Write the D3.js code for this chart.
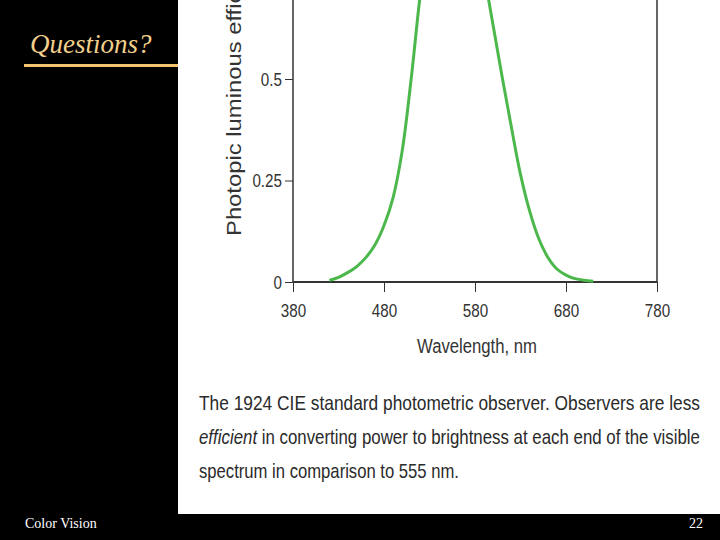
<!DOCTYPE html>
<html><head><meta charset="utf-8">
<script src="https://cdn.jsdelivr.net/npm/d3@7"></script>
<style>body{margin:0;background:#000}svg{display:block}</style>
</head><body>
<script>
// CIE 1924 photopic V(lambda), 10 nm steps
var wavelengths = d3.range(380, 790, 10)
var efficiency = [0.00004,0.00012,0.0004,0.0012,0.004,0.0116,0.023,0.038,0.06,0.091,
  0.139,0.208,0.323,0.503,0.71,0.862,0.954,0.995,0.995,0.952,
  0.87,0.757,0.631,0.503,0.381,0.265,0.175,0.107,0.061,0.032,
  0.017,0.0082,0.0041,0.0021,0.00105,0.00052,0.00025,0.00012,0.00006,0.00003,0.000015]
var xTicks = [380, 480, 580, 680, 780]
var yTicks = [0, 0.25, 0.5]
var caption = [
  { len: 501, parts: [['The 1924 CIE standard photometric observer. Observers are less', false]] },
  { len: 501, parts: [['efficient', true], [' in converting power to brightness at each end of the visible', false]] },
  { len: 260, parts: [['spectrum in comparison to 555 nm.', false]] }
]

var width = 720, height = 540
var svg = d3.select('body').append('svg').attr('width', width).attr('height', height)
svg.append('rect').attr('width', width).attr('height', height).attr('fill', '#000')
svg.append('rect').attr('x', 178).attr('y', 0).attr('width', 542).attr('height', 514).attr('fill', '#fff')

var x = d3.scaleLinear().domain([380, 780]).range([293, 657])
var y = d3.scaleLinear().domain([0, 0.5]).range([282, 79])
var font = '"Liberation Sans", Arial, sans-serif'

var g = svg.append('g')
// frame
g.append('line').attr('x1', x(380)).attr('x2', x(380)).attr('y1', 0).attr('y2', y(0)).attr('stroke', '#333').attr('stroke-width', 1.5)
g.append('line').attr('x1', x(780)).attr('x2', x(780)).attr('y1', 0).attr('y2', y(0)).attr('stroke', '#333').attr('stroke-width', 1.5)
g.append('line').attr('x1', x(380)).attr('x2', x(780)).attr('y1', y(0)).attr('y2', y(0)).attr('stroke', '#333').attr('stroke-width', 2)

var xa = g.append('g').attr('transform', 'translate(0,' + y(0) + ')')
  .call(d3.axisBottom(x).tickValues(xTicks).tickSize(10).tickPadding(12))
var ya = g.append('g').attr('transform', 'translate(' + x(380) + ',0)')
  .call(d3.axisLeft(y).tickValues(yTicks).tickSize(8).tickPadding(3).tickFormat(d => d === 0 ? '0' : String(d)))
;[xa, ya].forEach(a => {
  a.select('.domain').remove()
  a.selectAll('line').attr('stroke', '#333')
  a.selectAll('text').attr('fill', '#333').style('font-family', font).style('font-size', '19px')
    .attr('textLength', function () { return this.getComputedTextLength() * 0.8 })
    .attr('lengthAdjust', 'spacingAndGlyphs')
})

g.append('path').datum(wavelengths.map((w, i) => [w, efficiency[i]]).filter(d => d[1] > 0.0015))
  .attr('fill', 'none').attr('stroke', '#4cb84c').attr('stroke-width', 3)
  .attr('d', d3.line().x(d => x(d[0])).y(d => y(d[1])).curve(d3.curveCatmullRom))

g.append('text').attr('transform', 'translate(241,236) rotate(-90)')
  .attr('fill', '#333').style('font-family', font).style('font-size', '20px')
  .attr('textLength', 300).attr('lengthAdjust', 'spacingAndGlyphs')
  .text('Photopic luminous efficiency')
g.append('text').attr('x', 477).attr('y', 353).attr('text-anchor', 'middle')
  .attr('fill', '#333').style('font-family', font).style('font-size', '20px')
  .attr('textLength', 120).attr('lengthAdjust', 'spacingAndGlyphs').text('Wavelength, nm')

caption.forEach((line, i) => {
  var t = svg.append('text').attr('x', 199).attr('y', 410 + i * 34)
    .attr('fill', '#2a2a2a').style('font-family', font).style('font-size', '21px')
    .attr('textLength', line.len).attr('lengthAdjust', 'spacingAndGlyphs')
  line.parts.forEach(p => t.append('tspan').style('font-style', p[1] ? 'italic' : 'normal').text(p[0]))
})

svg.append('text').attr('x', 30).attr('y', 53).attr('fill', '#f2cf8c')
  .style('font-family', '"Liberation Serif", serif').style('font-style', 'italic').style('font-size', '27px').text('Questions?')
svg.append('rect').attr('x', 24).attr('y', 64).attr('width', 154).attr('height', 3).attr('fill', '#f5c470')
svg.append('text').attr('x', 25).attr('y', 528).attr('fill', '#fff')
  .style('font-family', '"Liberation Serif", serif').style('font-size', '14px').text('Color Vision')
svg.append('text').attr('x', 703).attr('y', 528).attr('text-anchor', 'end').attr('fill', '#fff')
  .style('font-family', '"Liberation Serif", serif').style('font-size', '14px').text('22')
</script>
</body></html>
